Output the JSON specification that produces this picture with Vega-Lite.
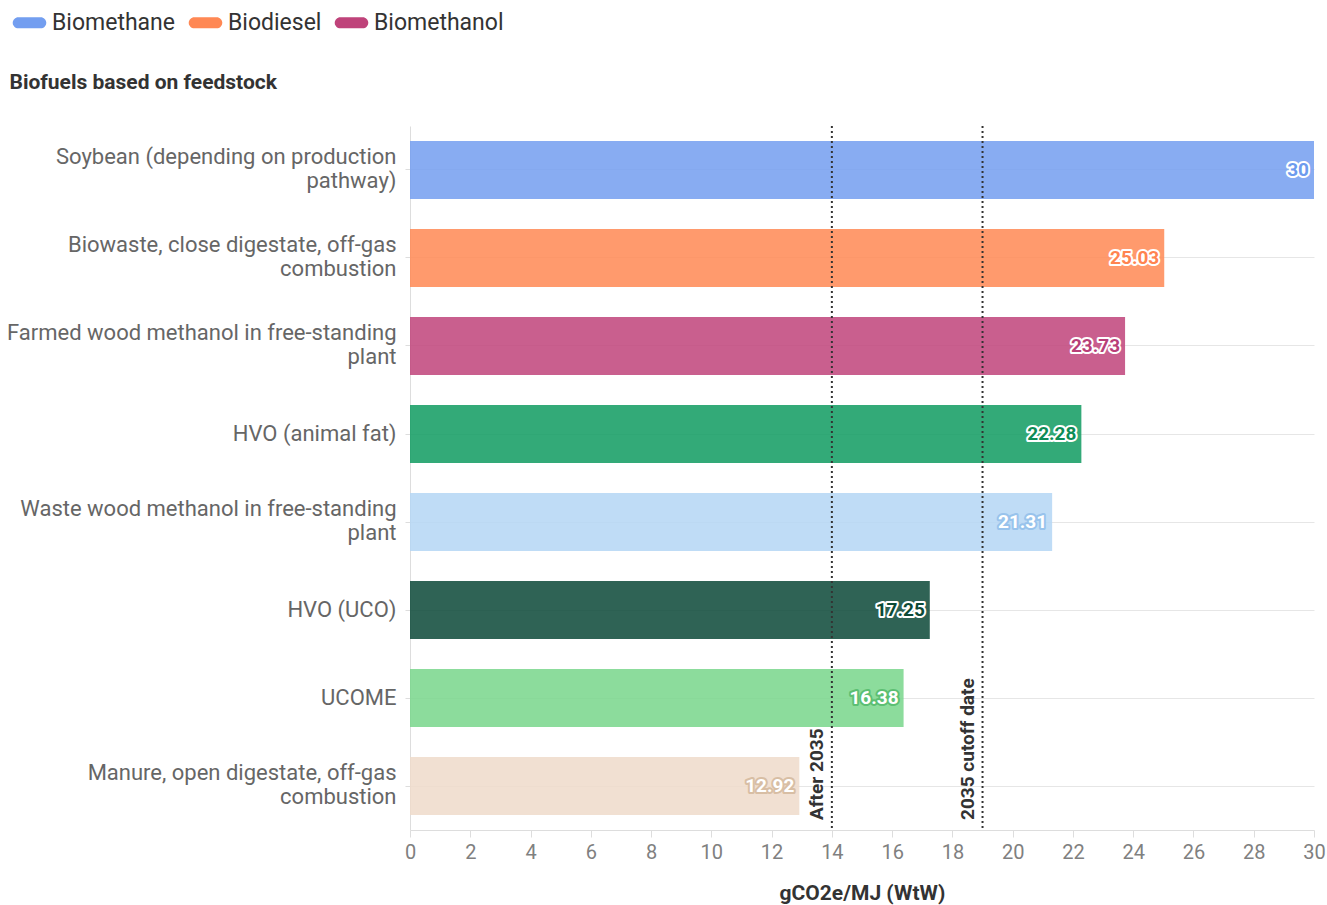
{
  "$schema": "https://vega.github.io/schema/vega-lite/v6.json",
  "autosize": "none",
  "width": 904,
  "height": 704,
  "padding": {"left": 410, "top": 126, "right": 13, "bottom": 75},
  "background": "white",
  "config": {"font": "Roboto", "view": {"stroke": null}},
  "datasets": {
    "bars": [
      {"feedstock": "Soybean (depending on production|pathway)", "series": "Biomethane", "value": 30},
      {"feedstock": "Biowaste, close digestate, off-gas|combustion", "series": "Biodiesel", "value": 25.03},
      {"feedstock": "Farmed wood methanol in free-standing|plant", "series": "Biomethanol", "value": 23.73},
      {"feedstock": "HVO (animal fat)", "series": "HVO (animal fat)", "value": 22.28},
      {"feedstock": "Waste wood methanol in free-standing|plant", "series": "Waste wood methanol", "value": 21.31},
      {"feedstock": "HVO (UCO)", "series": "HVO (UCO)", "value": 17.25},
      {"feedstock": "UCOME", "series": "UCOME", "value": 16.38},
      {"feedstock": "Manure, open digestate, off-gas|combustion", "series": "Manure", "value": 12.92}
    ],
    "rules": [
      {"x": 14, "label": "After 2035", "anchor": "Manure, open digestate, off-gas|combustion"},
      {"x": 19, "label": "2035 cutoff date", "anchor": "Manure, open digestate, off-gas|combustion"}
    ]
  },
  "encoding": {
    "y": {
      "field": "feedstock",
      "type": "nominal",
      "sort": null,
      "scale": {
        "domain": [
          "Soybean (depending on production|pathway)",
          "Biowaste, close digestate, off-gas|combustion",
          "Farmed wood methanol in free-standing|plant",
          "HVO (animal fat)",
          "Waste wood methanol in free-standing|plant",
          "HVO (UCO)",
          "UCOME",
          "Manure, open digestate, off-gas|combustion"
        ],
        "paddingInner": 0.34,
        "paddingOuter": 0.17
      },
      "title": "Biofuels based on feedstock",
      "axis": {
        "labelExpr": "split(datum.label, '|')",
        "labelOffset": {"expr": "indexof(datum.value, '|') >= 0 ? -13 : 0"},
        "labelFontSize": 22,
        "labelColor": "#666666",
        "labelLineHeight": 24,
        "labelPadding": 9,
        "labelLimit": 420,
        "tickSize": 5,
        "tickColor": "#dddddd",
        "domainColor": "#dddddd",
        "grid": true,
        "gridColor": "#e6e6e6",
        "bandPosition": 0.5,
        "titleAngle": 0,
        "titleX": -401,
        "titleY": -44,
        "titleAlign": "left",
        "titleBaseline": "middle",
        "titleFontSize": 21,
        "titleFontWeight": "bold",
        "titleColor": "#333333"
      }
    },
    "x": {
      "field": "value",
      "type": "quantitative",
      "scale": {"domain": [0, 30], "nice": false},
      "title": "gCO2e/MJ (WtW)",
      "axis": {
        "values": [0, 2, 4, 6, 8, 10, 12, 14, 16, 18, 20, 22, 24, 26, 28, 30],
        "grid": false,
        "labelFlush": false,
        "labelFontSize": 20,
        "labelColor": "#808080",
        "labelPadding": 5,
        "tickSize": 7,
        "tickColor": "#dddddd",
        "domainColor": "#dddddd",
        "titleFontSize": 21,
        "titleFontWeight": "bold",
        "titleColor": "#333333",
        "titlePadding": 20
      }
    }
  },
  "layer": [
    {
      "data": {"name": "bars"},
      "mark": {"type": "bar", "opacity": 0.85},
      "encoding": {
        "color": {
          "field": "series",
          "type": "nominal",
          "scale": {
            "domain": ["Biomethane", "Biodiesel", "Biomethanol", "HVO (animal fat)", "Waste wood methanol", "HVO (UCO)", "UCOME", "Manure"],
            "range": ["#739ef0", "#ff8854", "#bf437a", "#0f9b60", "#b4d6f4", "#0b4837", "#78d68b", "#eedbca"]
          },
          "legend": {
            "values": ["Biomethane", "Biodiesel", "Biomethanol"],
            "title": null,
            "orient": "none",
            "direction": "horizontal",
            "legendX": -392,
            "legendY": -115,
            "padding": 0,
            "symbolType": "M-1,-0.5L1,-0.5A0.5,0.5 0 0 1 1,0.5L-1,0.5A0.5,0.5 0 0 1 -1,-0.5Z",
            "symbolSize": 500,
            "symbolOpacity": 1,
            "symbolStrokeWidth": 0,
            "labelFontSize": 23,
            "labelColor": "#333333",
            "labelOffset": 11,
            "columnPadding": 12,
            "labelLimit": 300
          }
        }
      }
    },
    {
      "data": {"name": "bars"},
      "mark": {"type": "text", "align": "right", "baseline": "middle", "fontSize": 19, "fontWeight": "bold", "strokeWidth": 4, "strokeJoin": "round", "fill": "white"},
      "encoding": {
        "xOffset": {"value": -5},
        "text": {"field": "value", "type": "quantitative"},
        "stroke": {
          "condition": {
            "test": "indexof(['Waste wood methanol','UCOME','Manure'], datum.series) >= 0",
            "field": "series",
            "type": "nominal",
            "scale": {
              "domain": ["Biomethane", "Biodiesel", "Biomethanol", "HVO (animal fat)", "Waste wood methanol", "HVO (UCO)", "UCOME", "Manure"],
              "range": ["#739ef0", "#ff8854", "#bf437a", "#0f9b60", "#98c3ec", "#0b4837", "#5cbf73", "#d8bea4"]
            },
            "legend": null
          },
          "value": "white"
        }
      }
    },
    {
      "data": {"name": "bars"},
      "mark": {"type": "text", "align": "right", "baseline": "middle", "fontSize": 19, "fontWeight": "bold"},
      "encoding": {
        "xOffset": {"value": -5},
        "text": {"field": "value", "type": "quantitative"},
        "fill": {
          "condition": {
            "test": "indexof(['Waste wood methanol','UCOME','Manure'], datum.series) >= 0",
            "value": "white"
          },
          "field": "series",
          "type": "nominal",
          "scale": {
            "domain": ["Biomethane", "Biodiesel", "Biomethanol", "HVO (animal fat)", "Waste wood methanol", "HVO (UCO)", "UCOME", "Manure"],
            "range": ["#6d9bee", "#ff8450", "#b83f78", "#0d8c55", "#b4d6f4", "#0b4a36", "#78d68b", "#eedbca"]
          },
          "legend": null
        }
      }
    },
    {
      "data": {"name": "rules"},
      "mark": {"type": "rule", "color": "#333333", "strokeWidth": 2, "strokeDash": [2, 3]},
      "encoding": {
        "x": {"field": "x", "type": "quantitative"},
        "y": null
      }
    },
    {
      "data": {"name": "rules"},
      "mark": {"type": "text", "angle": 270, "align": "left", "baseline": "bottom", "fontSize": 19, "fontWeight": "bold", "color": "#333333"},
      "encoding": {
        "x": {"field": "x", "type": "quantitative"},
        "xOffset": {"value": -5},
        "y": {"field": "anchor", "type": "nominal"},
        "yOffset": {"value": 63},
        "text": {"field": "label"}
      }
    }
  ]
}
